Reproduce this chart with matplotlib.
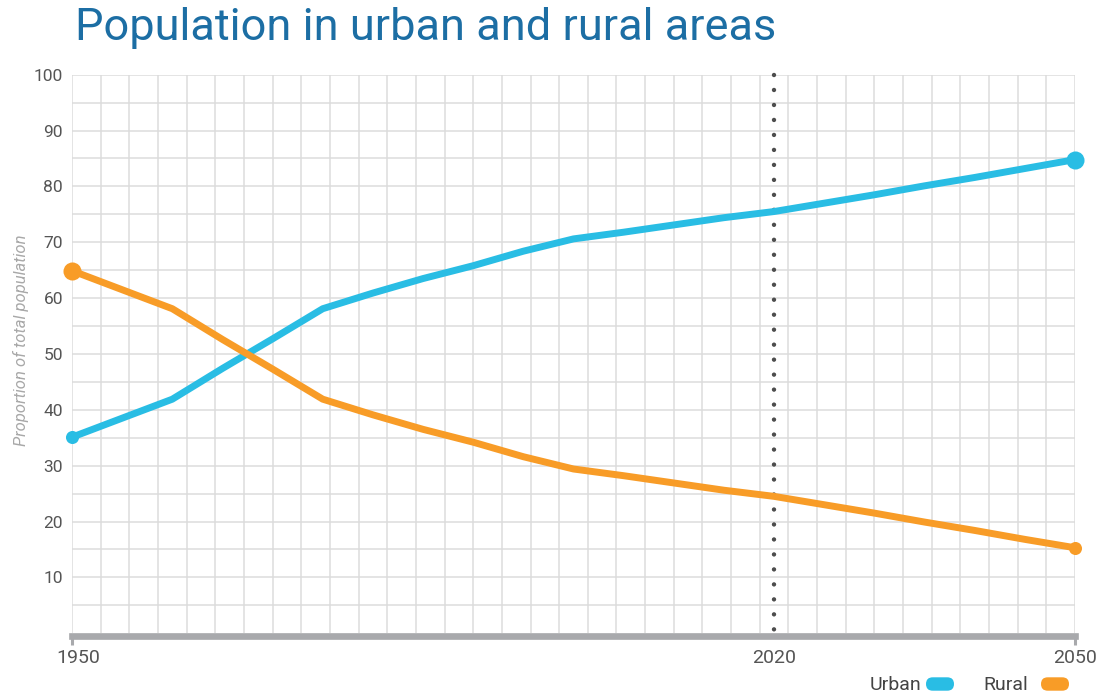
import matplotlib
matplotlib.use("Agg")
import matplotlib.pyplot as plt
import numpy as np
from matplotlib.patches import FancyBboxPatch
from matplotlib.transforms import ScaledTranslation

# ---------------- data ----------------
years = [1950, 1955, 1960, 1965, 1970, 1975, 1980, 1985, 1990, 1995, 2000,
         2005, 2010, 2015, 2020, 2025, 2030, 2035, 2040, 2045, 2050]
urban = [35.1, 38.5, 41.9, 47.4, 52.7, 58.1, 60.9, 63.5, 65.8, 68.4, 70.6,
         71.8, 73.1, 74.4, 75.5, 77.0, 78.5, 80.1, 81.6, 83.2, 84.8]
rural = [64.9, 61.5, 58.1, 52.6, 47.3, 41.9, 39.1, 36.5, 34.2, 31.6, 29.4,
         28.2, 26.9, 25.6, 24.5, 23.0, 21.5, 19.9, 18.4, 16.8, 15.3]
y_ticks = [10, 20, 30, 40, 50, 60, 70, 80, 90, 100]
x_tick_years = [1950, 2020, 2050]
x_tick_labels = ["1950", "2020", "2050"]
marker_year = 2020
title = "Population in urban and rural areas"
y_label = "Proportion of total population"
legend_labels = ["Urban", "Rural"]

URBAN_C = "#29BDE4"
RURAL_C = "#F89C27"
GRID_C = "#DCDCDC"
AXIS_C = "#A8A9AC"
TEXT_C = "#555555"

plt.rcParams["font.family"] = ["Roboto", "DejaVu Sans"]

W, H = 1098, 694
fig = plt.figure(figsize=(W / 100, H / 100), dpi=100)
ax = fig.add_axes([72 / W, (H - 633.2) / H, 1003 / W, 558.5 / H])
ax.set_xlim(1950, 2050)
ax.set_ylim(0, 100)

for s in ["top", "right", "left"]:
    ax.spines[s].set_visible(False)
ax.spines["bottom"].set_position(("outward", 2.2))
ax.spines["bottom"].set_linewidth(4.8)
ax.spines["bottom"].set_color(AXIS_C)
ax.spines["bottom"].set_zorder(4)

# graph-paper grid
ax.hlines(np.arange(5, 101, 5), 1950, 2050, color=GRID_C, lw=1.1, zorder=0)
ax.vlines(np.linspace(1950, 2050, 36), 0, 100, color=GRID_C, lw=1.1, zorder=0)

# dotted marker line
ax.plot([marker_year, marker_year], [100, 0], color="#4D4D4D", lw=3.2,
        linestyle=(0, (0.001, 3.37)), dash_capstyle="round", zorder=2,
        clip_on=False)

# series
for vals, c, ms0, ms1 in [(urban, URBAN_C, 9.4, 13.0), (rural, RURAL_C, 13.0, 9.4)]:
    ax.plot(years, vals, color=c, lw=5.0, solid_capstyle="round",
            solid_joinstyle="round", zorder=3, clip_on=False)
    ax.plot([years[0]], [vals[0]], "o", color=c, ms=ms0, mew=0, zorder=3, clip_on=False)
    ax.plot([years[-1]], [vals[-1]], "o", color=c, ms=ms1, mew=0, zorder=3, clip_on=False)

# ticks
ax.set_yticks(y_ticks)
ax.set_yticklabels([str(v) for v in y_ticks])
ax.tick_params(axis="y", length=0, pad=6.5, labelsize=12.5, labelcolor=TEXT_C)
ax.set_xticks(x_tick_years)
ax.set_xticklabels(x_tick_labels)
ax.tick_params(axis="x", length=6.5, width=2.2, color=AXIS_C, pad=3,
               labelsize=14, labelcolor=TEXT_C)
ax.xaxis.get_major_ticks()[1].tick1line.set_visible(False)
lab0 = ax.get_xticklabels()[0]
lab0.set_transform(lab0.get_transform() + ScaledTranslation(0.06, 0, fig.dpi_scale_trans))

# y label
fig.text(21 / W, (H - 340) / H, y_label, rotation=90, ha="center", va="center",
         style="italic", color="#A8A8A8", fontsize=12.0)

# title
fig.text(75 / W, (H - 40) / H, title, ha="left", va="baseline", fontsize=32.5,
         color="#1C6EA4")

# legend
for lab, c, txt_right, pill_left in [(legend_labels[0], URBAN_C, 921, 926),
                                     (legend_labels[1], RURAL_C, 1028, 1041)]:
    fig.text(txt_right / W, (H - 690) / H, lab, ha="right", va="baseline",
             fontsize=14, color="#444444")
    pill = FancyBboxPatch((pill_left / 100, (H - 690.7) / 100), 0.28, 0.134,
                          boxstyle="round,pad=0,rounding_size=0.067",
                          transform=fig.dpi_scale_trans, color=c, lw=0)
    fig.patches.append(pill)

fig.savefig("out.png", dpi=100)
